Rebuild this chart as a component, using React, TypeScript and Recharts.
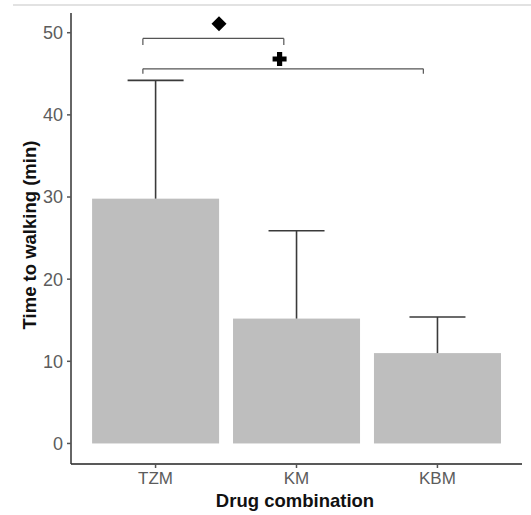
import {
  Bar,
  ComposedChart,
  ReferenceDot,
  ReferenceLine,
  XAxis,
  YAxis,
} from 'recharts';

const drugs = ['TZM', 'KM', 'KBM'];
const meanTime = [29.8, 15.2, 11.0];
const sdTime = [14.4, 10.7, 4.4];
const yTicks = [0, 10, 20, 30, 40, 50];

// significance brackets (x in category units, 1 = TZM)
const bracketFrom = [0.91, 0.91];
const bracketTo = [1.91, 2.9];
const bracketY = [49.3, 45.6];
const bracketTip = [48.5, 45.0];

const markX = [1.45, 1.88];
const markY = [51.1, 46.8];
const markKind = ['diamond', 'plus'];

const rows = drugs.map((name, i) => ({ pos: i + 1, name, mean: meanTime[i], sd: sdTime[i] }));

const FONT = '"Liberation Sans", Arial, sans-serif';
const TICK_COLOR = '#5c5c5c';

function BarWithError(props: any) {
  const { x, y, width, height, payload } = props;
  const perUnit = height / payload.mean;
  const top = y - payload.sd * perUnit;
  const cx = x + width / 2;
  return (
    <g>
      <rect x={x} y={y} width={width} height={height} fill="#bebebe" />
      <line x1={cx} x2={cx} y1={y} y2={top} stroke="#3a3a3a" strokeWidth={1.6} />
      <line x1={cx - 28} x2={cx + 28} y1={top} y2={top} stroke="#3a3a3a" strokeWidth={1.6} />
    </g>
  );
}

function markShape(kind: string) {
  return (props: any) => {
    const { cx, cy } = props;
    if (kind === 'diamond') {
      const r = 7.5;
      return <path d={`M${cx},${cy - r} L${cx + r},${cy} L${cx},${cy + r} L${cx - r},${cy} Z`} fill="#000" />;
    }
    const a = 7;
    const t = 2.6;
    return (
      <path
        d={`M${cx - t},${cy - a} H${cx + t} V${cy - t} H${cx + a} V${cy + t} H${cx + t} V${cy + a} H${cx - t} V${cy + t} H${cx - a} V${cy - t} H${cx - t} Z`}
        fill="#000"
      />
    );
  };
}

export default function App() {
  return (
    <div style={{ position: 'absolute', left: 0, top: 0, width: 531, height: 515, background: '#fff' }}>
      <div style={{ position: 'absolute', left: 13, top: 4, width: 518, height: 2, background: '#e2e2e2' }} />
      <ComposedChart
        width={531}
        height={515}
        data={rows}
        margin={{ top: 13, right: 9, left: 0, bottom: 0 }}
      >
        <XAxis
          dataKey="pos"
          type="number"
          domain={[0.4, 3.6]}
          ticks={[1, 2, 3]}
          tickFormatter={(v: number) => drugs[v - 1]}
          height={51}
          stroke="#222"
          strokeWidth={1.5}
          tickSize={4}
          tickMargin={4}
          tick={{ fill: TICK_COLOR, fontSize: 17, fontFamily: FONT }}
          tickLine={{ stroke: '#555' }}
          allowDataOverflow
          label={{
            content: () => (
              <text x={295} y={507} textAnchor="middle" fontFamily={FONT} fontWeight="bold" fontSize={18.5} fill="#111">
                Drug combination
              </text>
            ),
          }}
        />
        <YAxis
          type="number"
          domain={[-2.5, 52.4]}
          ticks={yTicks}
          width={71}
          stroke="#333"
          strokeWidth={1.5}
          tickSize={4}
          tickMargin={4}
          tick={{ fill: TICK_COLOR, fontSize: 18, fontFamily: FONT }}
          tickLine={{ stroke: '#555' }}
          allowDataOverflow
          label={{
            content: () => (
              <text
                x={0}
                y={0}
                transform="translate(36 235) rotate(-90)"
                textAnchor="middle"
                fontFamily={FONT}
                fontWeight="bold"
                fontSize={18.5}
                fill="#111"
              >
                Time to walking (min)
              </text>
            ),
          }}
        />
        <Bar dataKey="mean" barSize={127} shape={BarWithError} isAnimationActive={false} />
        {bracketFrom.map((x1, i) => (
          <ReferenceLine
            key={`h${i}`}
            segment={[{ x: x1, y: bracketY[i] }, { x: bracketTo[i], y: bracketY[i] }]}
            stroke="#555"
            strokeWidth={1.2}
          />
        ))}
        {bracketFrom.map((x1, i) => (
          <ReferenceLine
            key={`l${i}`}
            segment={[{ x: x1, y: bracketY[i] }, { x: x1, y: bracketTip[i] }]}
            stroke="#555"
            strokeWidth={1.2}
          />
        ))}
        {bracketTo.map((x2, i) => (
          <ReferenceLine
            key={`r${i}`}
            segment={[{ x: x2, y: bracketY[i] }, { x: x2, y: bracketTip[i] }]}
            stroke="#555"
            strokeWidth={1.2}
          />
        ))}
        {markX.map((x, i) => (
          <ReferenceDot key={`m${i}`} x={x} y={markY[i]} shape={markShape(markKind[i])} />
        ))}
      </ComposedChart>
    </div>
  );
}
